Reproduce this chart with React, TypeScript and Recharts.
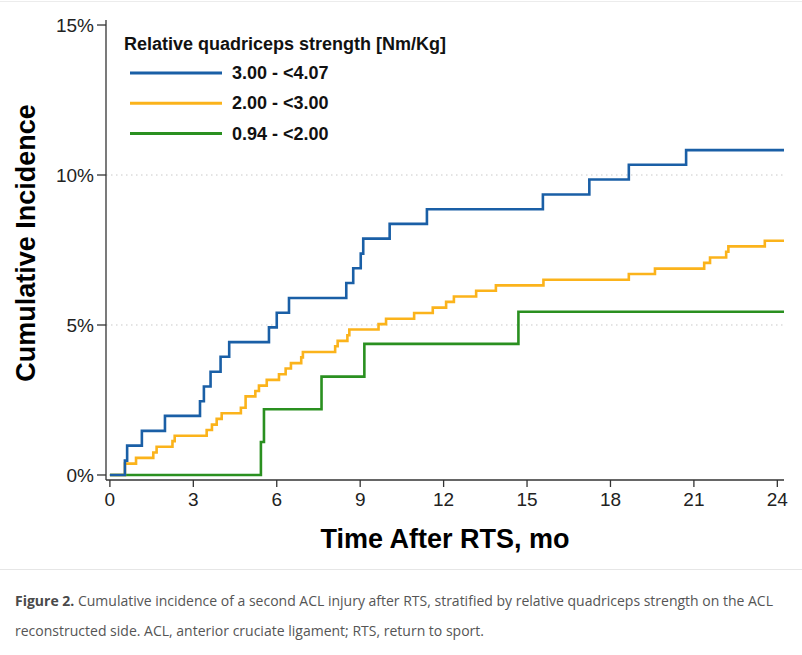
import React from 'react';
import { LineChart, Line, XAxis, YAxis, CartesianGrid, Legend, Label } from 'recharts';

// months after RTS and cumulative incidence (%) at each step
const highTimes = [0, 0.54, 0.62, 1.15, 1.98, 3.24, 3.38, 3.62, 3.98, 4.29, 5.72, 6.0, 6.44, 8.5, 8.75, 9.02, 9.11, 10.06, 11.4, 15.57, 17.24, 18.66, 20.72, 24.24];
const highValues = [0, 0.48, 0.98, 1.47, 1.97, 2.46, 2.95, 3.44, 3.94, 4.43, 4.92, 5.41, 5.9, 6.4, 6.89, 7.38, 7.88, 8.37, 8.86, 9.35, 9.85, 10.34, 10.83, 10.83];

const midTimes = [0, 0.54, 0.94, 1.56, 1.68, 2.25, 2.33, 3.48, 3.67, 3.84, 4.02, 4.71, 4.88, 5.23, 5.36, 5.64, 6.08, 6.32, 6.51, 6.88, 6.94, 8.1, 8.19, 8.54, 8.61, 9.66, 9.93, 10.94, 11.61, 12.09, 12.37, 13.17, 13.88, 15.59, 18.66, 19.6, 21.37, 21.58, 22.16, 22.24, 23.55, 24.24];
const midValues = [0, 0.38, 0.57, 0.75, 0.94, 1.13, 1.31, 1.5, 1.68, 1.87, 2.06, 2.24, 2.62, 2.8, 2.98, 3.17, 3.36, 3.55, 3.73, 3.92, 4.1, 4.29, 4.47, 4.66, 4.85, 5.03, 5.21, 5.4, 5.58, 5.77, 5.95, 6.14, 6.32, 6.51, 6.7, 6.88, 7.07, 7.25, 7.44, 7.62, 7.81, 7.81];

const lowTimes = [0, 5.43, 5.54, 7.61, 9.15, 14.69, 24.24];
const lowValues = [0, 1.1, 2.19, 3.28, 4.37, 5.44, 5.44];

const xTicks = [0, 3, 6, 9, 12, 15, 18, 21, 24];
const yTicks = [0, 5, 10, 15];
const gridValues = [5, 10];

const seriesNames = ['3.00 - <4.07', '2.00 - <3.00', '0.94 - <2.00'];
const seriesColors = ['#1a5fa6', '#fbb31b', '#2a9020'];

const toPoints = (times: number[], values: number[]) => times.map((t, i) => ({ t, v: values[i] }));

const highData = toPoints(highTimes, highValues);
const midData = toPoints(midTimes, midValues);
const lowData = toPoints(lowTimes, lowValues);

const axisFont = { fontFamily: '"Liberation Sans", Arial, sans-serif', fontSize: 19, fill: '#222' };

function LegendBox() {
  return (
    <svg width={360} height={130} style={{ fontFamily: '"Liberation Sans", Arial, sans-serif' }}>
      <text x={6} y={22} fontSize={18} fontWeight="bold" fill="#111">
        Relative quadriceps strength [Nm/Kg]
      </text>
      {seriesNames.map((name, i) => (
        <g key={name}>
          <line x1={12} x2={104} y1={45 + i * 30.3} y2={45 + i * 30.3} stroke={seriesColors[i]} strokeWidth={3} />
          <text x={114} y={51 + i * 30.3} fontSize={18} fontWeight="bold" fill="#111">
            {name}
          </text>
        </g>
      ))}
    </svg>
  );
}

export default function App() {
  return (
    <div style={{ position: 'absolute', left: 0, top: 0, width: 802, height: 655, background: '#fff' }}>
      <div style={{ position: 'absolute', left: 0, top: 1, width: 802, borderTop: '1px solid #ececec' }} />
      <LineChart
        width={802}
        height={560}
        margin={{ top: 20, right: 18, left: 0, bottom: 0 }}
      >
        <CartesianGrid
          horizontal
          vertical={false}
          horizontalValues={gridValues}
          stroke="#c8c8c8"
          strokeDasharray="1.5 3.5"
        />
        <XAxis
          dataKey="t"
          type="number"
          domain={[-0.14, 24.24]}
          ticks={xTicks}
          allowDuplicatedCategory={false}
          height={80}
          tick={axisFont}
          tickSize={7}
          tickMargin={6}
          stroke="#333"
          strokeWidth={1.3}
        >
          <Label
            value="Time After RTS, mo"
            position="insideBottom"
            offset={12}
            style={{ fontFamily: '"Liberation Sans", Arial, sans-serif', fontSize: 27, fontWeight: 'bold', fill: '#000' }}
          />
        </XAxis>
        <XAxis
          xAxisId="top"
          orientation="top"
          type="number"
          domain={[-0.14, 24.24]}
          height={0}
          tick={false}
          tickLine={false}
          stroke="#333"
          strokeWidth={1.3}
        />
        <YAxis
          type="number"
          domain={[-0.167, 15.167]}
          ticks={yTicks}
          width={106}
          tick={axisFont}
          tickFormatter={(v: number) => `${v}%`}
          tickSize={9}
          tickMargin={3}
          stroke="#333"
          strokeWidth={1.3}
        >
          <Label
            content={() => (
              <text
                x={26}
                y={243}
                transform="rotate(-90 26 243)"
                textAnchor="middle"
                dominantBaseline="central"
                style={{ fontFamily: '"Liberation Sans", Arial, sans-serif', fontSize: 27, fontWeight: 'bold', fill: '#000' }}
              >
                Cumulative Incidence
              </text>
            )}
          />
        </YAxis>
        <YAxis
          yAxisId="right"
          orientation="right"
          type="number"
          domain={[-0.167, 15.167]}
          width={0}
          tick={false}
          tickLine={false}
          stroke="#333"
          strokeWidth={1.3}
        />
        <Legend
          layout="vertical"
          align="center"
          verticalAlign="middle"
          content={() => <LegendBox />}
          wrapperStyle={{ left: 118, top: 28, width: 360, height: 130 }}
        />
        <Line
          data={lowData}
          dataKey="v"
          name={seriesNames[2]}
          type="stepAfter"
          stroke={seriesColors[2]}
          strokeWidth={2.6}
          dot={false}
          isAnimationActive={false}
        />
        <Line
          data={midData}
          dataKey="v"
          name={seriesNames[1]}
          type="stepAfter"
          stroke={seriesColors[1]}
          strokeWidth={2.6}
          dot={false}
          isAnimationActive={false}
        />
        <Line
          data={highData}
          dataKey="v"
          name={seriesNames[0]}
          type="stepAfter"
          stroke={seriesColors[0]}
          strokeWidth={2.6}
          dot={false}
          isAnimationActive={false}
        />
      </LineChart>
      <svg width={802} height={95} style={{ position: 'absolute', left: 0, top: 560 }}>
        <line x1={0} x2={802} y1={9.5} y2={9.5} stroke="#e6e6e6" strokeWidth={1} />
        <text
          x={15}
          y={46}
          textLength={758}
          lengthAdjust="spacingAndGlyphs"
          style={{ fontFamily: '"Open Sans", sans-serif', fontSize: 14, fill: '#555' }}
        >
          <tspan fontWeight="bold" fill="#4a4a4a">Figure 2.</tspan> Cumulative incidence of a second ACL injury after RTS, stratified by relative quadriceps strength on the ACL
        </text>
        <text
          x={15}
          y={76}
          textLength={469}
          lengthAdjust="spacingAndGlyphs"
          style={{ fontFamily: '"Open Sans", sans-serif', fontSize: 14, fill: '#555' }}
        >
          reconstructed side. ACL, anterior cruciate ligament; RTS, return to sport.
        </text>
      </svg>
    </div>
  );
}
